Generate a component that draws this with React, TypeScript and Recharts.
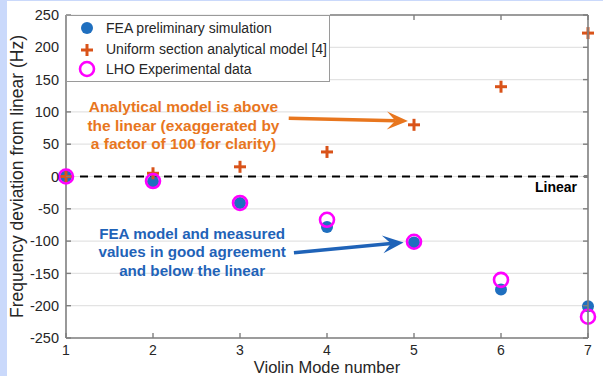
import {
  ScatterChart,
  Scatter,
  XAxis,
  YAxis,
  CartesianGrid,
  ReferenceLine,
  ReferenceDot,
  Legend,
} from "recharts"

const modes = [1, 2, 3, 4, 5, 6, 7]
const feaValues = [0, -8, -41, -78, -102, -175, -201]
const analyticalValues = [0, 5, 15, 38, 80, 139, 222]
const lhoValues = [0, -7, -41, -67, -101, -160, -217]
const yTicks = [-250, -200, -150, -100, -50, 0, 50, 100, 150, 200, 250]

const BLUE = "#1f6fbf"
const ORANGE = "#d95319"
const MAGENTA = "#ff00ff"
const AXIS = "#7f7f7f"
const FONT = "'Liberation Sans', Arial, Helvetica, sans-serif"

const W = 603
const H = 376
const M = { top: 15, right: 15, bottom: 0, left: 6 }
const Y_AXIS_W = 60
const X_AXIS_H = 38

const feaData = modes.map((m, i) => ({ x: m, y: feaValues[i] }))
const analyticalData = modes.map((m, i) => ({ x: m, y: analyticalValues[i] }))
const lhoData = modes.map((m, i) => ({ x: m, y: lhoValues[i] }))

const DotShape = (props: any) => (
  <circle cx={props.cx} cy={props.cy} r={6} fill={BLUE} />
)

const PlusShape = (props: any) => {
  const { cx, cy } = props
  return (
    <g stroke={ORANGE} strokeWidth={3}>
      <line x1={cx - 6} y1={cy} x2={cx + 6} y2={cy} />
      <line x1={cx} y1={cy - 6} x2={cx} y2={cy + 6} />
    </g>
  )
}

const RingShape = (props: any) => (
  <circle cx={props.cx} cy={props.cy} r={7} fill="none" stroke={MAGENTA} strokeWidth={2.6} />
)

// arrow drawn along a reference segment
const arrow = (color: string) => (props: any) => {
  const { x1, y1, x2, y2 } = props
  const ang = Math.atan2(y2 - y1, x2 - x1)
  const len = 21
  const w = 9
  const bx = x2 - len * Math.cos(ang)
  const by = y2 - len * Math.sin(ang)
  const nx = -Math.sin(ang)
  const ny = Math.cos(ang)
  const mx = x2 - len * 0.6 * Math.cos(ang)
  const my = y2 - len * 0.6 * Math.sin(ang)
  return (
    <g>
      <line x1={x1} y1={y1} x2={mx} y2={my} stroke={color} strokeWidth={3.5} />
      <polygon
        points={`${x2},${y2} ${bx + nx * w},${by + ny * w} ${mx},${my} ${bx - nx * w},${by - ny * w}`}
        fill={color}
      />
    </g>
  )
}

// top / right edges of the axes box (same box as the chart's plot area)
const BoxFrame = () => {
  const x = M.left + Y_AXIS_W
  const y = M.top
  const width = W - M.right - x
  const height = H - M.bottom - X_AXIS_H - y
  const xLo = modes[0]
  const xHi = modes[modes.length - 1]
  const yLo = yTicks[0]
  const yHi = yTicks[yTicks.length - 1]
  return (
    <svg
      width={W}
      height={H}
      style={{ position: "absolute", left: 0, top: 0, pointerEvents: "none" }}
    >
      <g stroke={AXIS} fill="none">
        <line x1={330} y1={y} x2={x + width} y2={y} strokeWidth={1.6} />
        <line x1={x + width} y1={y} x2={x + width} y2={y + height} strokeWidth={1.6} />
        {modes
          .filter((m) => m > 4)
          .map((m) => {
            const tx = x + ((m - xLo) / (xHi - xLo)) * width
            return <line key={"t" + m} x1={tx} y1={y} x2={tx} y2={y + 5} strokeWidth={1.4} />
          })}
        {yTicks.map((t) => {
          const ty = y + ((yHi - t) / (yHi - yLo)) * height
          return (
            <line key={"r" + t} x1={x + width} y1={ty} x2={x + width - 5} y2={ty} strokeWidth={1.4} />
          )
        })}
      </g>
    </svg>
  )
}

const noteLabel = (lines: string[], color: string, size: number) => (props: any) => {
  const vb = props.viewBox || {}
  const cx = vb.cx ?? vb.x
  const cy = vb.cy ?? vb.y
  return (
    <text
      x={cx}
      y={cy}
      textAnchor="middle"
      fill={color}
      fontFamily={FONT}
      fontWeight="bold"
      fontSize={size}
    >
      {lines.map((l, i) => (
        <tspan key={i} x={cx} y={cy + (i - 1) * 18.5} dominantBaseline="middle">
          {l}
        </tspan>
      ))}
    </text>
  )
}

const legendItems = [
  { name: "FEA preliminary simulation", kind: "dot" },
  { name: "Uniform section analytical model [4]", kind: "plus" },
  { name: "LHO Experimental data", kind: "ring" },
]

const LegendBox = () => (
  <div
    style={{
      width: 264,
      height: 67,
      border: "1px solid #9a9a9a",
      background: "#fff",
      boxSizing: "border-box",
      fontFamily: FONT,
      fontSize: 14,
      color: "#262626",
      paddingTop: 2,
      whiteSpace: "nowrap",
    }}
  >
    {legendItems.map((it) => (
      <div key={it.name} style={{ display: "flex", alignItems: "center", height: 20.5 }}>
        <svg width={38} height={20}>
          {it.kind === "dot" && <circle cx={20} cy={10} r={6} fill={BLUE} />}
          {it.kind === "plus" && (
            <g stroke={ORANGE} strokeWidth={3}>
              <line x1={14} y1={11} x2={26} y2={11} />
              <line x1={20} y1={5} x2={20} y2={17} />
            </g>
          )}
          {it.kind === "ring" && (
            <circle cx={20} cy={10} r={7} fill="none" stroke={MAGENTA} strokeWidth={2.6} />
          )}
        </svg>
        <span style={{ marginLeft: 1 }}>{it.name}</span>
      </div>
    ))}
  </div>
)

// ticks point inward, MATLAB style
const BottomTick = (props: any) => {
  const { x, y, payload } = props
  const axisY = y - 7
  return (
    <g>
      <line x1={x} y1={axisY} x2={x} y2={axisY - 5} stroke={AXIS} strokeWidth={1.4} />
      <text x={x} y={y} dy="0.71em" textAnchor="middle" fill="#262626" fontSize={14} fontFamily={FONT}>
        {payload.value}
      </text>
    </g>
  )
}

const LeftTick = (props: any) => {
  const { x, y, payload } = props
  const axisX = x + 7
  return (
    <g>
      <line x1={axisX} y1={y} x2={axisX + 5} y2={y} stroke={AXIS} strokeWidth={1.4} />
      <text x={x} y={y} dy="0.355em" textAnchor="end" fill="#262626" fontSize={14.5} fontFamily={FONT}>
        {payload.value}
      </text>
    </g>
  )
}

export default function App() {
  return (
    <div
      style={{
        position: "fixed",
        left: 0,
        top: 0,
        width: W,
        height: H,
        background: "#cad9fb",
      }}
    >
      <div style={{ position: "absolute", left: 7, top: 1, width: W - 7, height: H - 1, background: "#fff" }} />
      <div style={{ position: "absolute", left: 0, top: 0 }}>
        <ScatterChart width={W} height={H} margin={M}>
          <CartesianGrid horizontal vertical={false} stroke="#e3e3e3" strokeWidth={1.2} />
          <XAxis
            type="number"
            dataKey="x"
            domain={[1, 7]}
            ticks={modes}
            height={X_AXIS_H}
            stroke={AXIS}
            strokeWidth={1.6}
            tickLine={false}
            tickSize={0}
            tickMargin={7}
            tick={<BottomTick />}
            label={(p: any) => {
              const vb = p.viewBox
              return (
                <text
                  x={vb.x + vb.width / 2}
                  y={vb.y + 34.5}
                  textAnchor="middle"
                  fill="#262626"
                  fontFamily={FONT}
                  fontSize={16.5}
                >
                  Violin Mode number
                </text>
              )
            }}
          />
          <YAxis
            type="number"
            dataKey="y"
            domain={[-250, 250]}
            ticks={yTicks}
            width={Y_AXIS_W}
            stroke={AXIS}
            strokeWidth={1.6}
            tickLine={false}
            tickSize={0}
            tickMargin={7}
            tick={<LeftTick />}
            interval={0}
            label={(p: any) => {
              const vb = p.viewBox
              const cx = vb.x + 12
              const cy = vb.y + vb.height / 2
              return (
                <text
                  x={cx}
                  y={cy}
                  transform={`rotate(-90 ${cx} ${cy})`}
                  textAnchor="middle"
                  dominantBaseline="middle"
                  fill="#262626"
                  fontFamily={FONT}
                  fontSize={17.5}
                >
                  Frequency deviation from linear (Hz)
                </text>
              )
            }}
          />
          <Legend
            verticalAlign="middle"
            align="center"
            layout="vertical"
            wrapperStyle={{ top: 15, left: 66, width: 264, height: 67 }}
            content={() => <LegendBox />}
          />
          <Scatter
            name="FEA preliminary simulation"
            data={feaData}
            shape={DotShape}
            isAnimationActive={false}
          />
          <Scatter
            name="Uniform section analytical model [4]"
            data={analyticalData}
            shape={PlusShape}
            isAnimationActive={false}
          />
          <Scatter
            name="LHO Experimental data"
            data={lhoData}
            shape={RingShape}
            isAnimationActive={false}
          />
          <ReferenceLine
            y={0}
            stroke="#000"
            strokeWidth={2}
            strokeDasharray="8 6"
            label={{
              value: "Linear",
              position: "insideBottomRight",
              fill: "#000",
              fontWeight: "bold",
              fontSize: 14,
              fontFamily: FONT,
              dy: 20,
              dx: -6,
            }}
          />
          <ReferenceLine
            segment={[
              { x: 3.56, y: 90 },
              { x: 4.93, y: 86 },
            ]}
            shape={arrow("#e8761e")}
          />
          <ReferenceLine
            segment={[
              { x: 3.62, y: -118 },
              { x: 4.88, y: -102 },
            ]}
            shape={arrow("#1f63b8")}
          />
          <ReferenceDot
            x={2.35}
            y={77}
            r={0}
            fill="none"
            stroke="none"
            label={noteLabel(
              ["Analytical model is above", "the linear (exaggerated by", "a factor of 100 for clarity)"],
              "#e8761e",
              15.5
            )}
          />
          <ReferenceDot
            x={2.45}
            y={-119}
            r={0}
            fill="none"
            stroke="none"
            label={noteLabel(
              ["FEA model and measured", "values in good agreement", "and below the linear"],
              "#1f63b8",
              15.2
            )}
          />
        </ScatterChart>
      </div>
      <BoxFrame />
    </div>
  )
}
